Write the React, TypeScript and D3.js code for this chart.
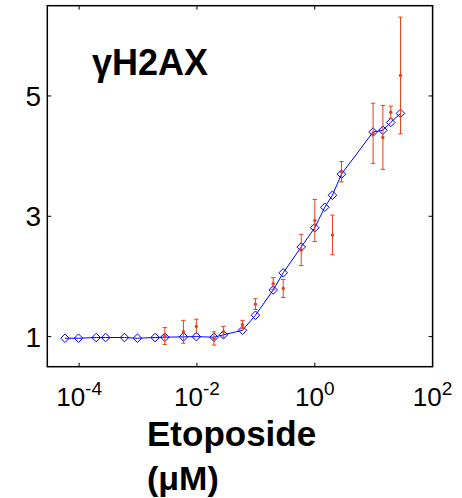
import React from "react";
import * as d3 from "d3";

// Model curve (blue diamonds): log10 concentration (µM) and value
const modelLogConc = [-4.24, -4.01, -3.71, -3.55, -3.23, -3.01, -2.71, -2.545, -2.23, -2.01, -1.71, -1.55, -1.227, -1.007, -0.706, -0.536, -0.23, 0.0, 0.17, 0.3, 0.453, 0.99, 1.156, 1.29, 1.455];
const modelValues = [0.973, 0.973, 0.985, 0.985, 0.985, 0.973, 0.985, 0.99, 0.996, 1.0, 0.99, 1.03, 1.105, 1.355, 1.775, 2.06, 2.49, 2.81, 3.15, 3.35, 3.7, 4.4, 4.43, 4.56, 4.71];

// Experimental data (red, with error bars)
const dataLogConc = [-2.545, -2.23, -2.01, -1.71, -1.55, -1.227, -1.007, -0.706, -0.536, -0.23, 0.0, 0.3, 0.453, 0.99, 1.156, 1.29, 1.455];
const dataValues = [1.01, 1.08, 1.17, 0.97, 1.08, 1.2, 1.54, 1.88, 1.8, 2.44, 2.93, 2.69, 3.74, 4.38, 4.31, 4.73, 5.34];
const dataErrors = [0.14, 0.19, 0.12, 0.11, 0.09, 0.07, 0.09, 0.1, 0.15, 0.26, 0.35, 0.33, 0.17, 0.5, 0.53, 0.1, 0.97];

const xTickExps = [-4, -2, 0, 2];
const yTicks = [1, 3, 5];
const title = "γH2AX";
const xLabelLines = ["Etoposide", "(μM)"];

const W = 462;
const H = 498;
const left = 47.3, right = 432.6, top = 5.7, bottom = 366.7;

export default function App() {
  const x = d3.scaleLog().domain([Math.pow(10, -4.54), 100]).range([left, right]);
  const y = d3.scaleLinear().domain([0.5, 6.5]).range([bottom, top]);

  const model = modelLogConc.map((l, i) => ({ c: Math.pow(10, l), v: modelValues[i] }));
  const data = dataLogConc.map((l, i) => ({ c: Math.pow(10, l), v: dataValues[i], e: dataErrors[i] }));

  const line = d3.line<{ c: number; v: number }>().x((d) => x(d.c)).y((d) => y(d.v));
  const font = "Arial, 'Liberation Sans', Helvetica, sans-serif";
  const red = "#e8401c";
  const blue = "#0000ff";
  const ds = 4.3;

  return (
    <svg width={W} height={H} style={{ position: "absolute", left: 0, top: 0, background: "#fff" }} fontFamily={font}>
      <rect x={0} y={0} width={W} height={H} fill="#fff" />
      {/* frame */}
      <rect x={left} y={top} width={right - left} height={bottom - top} fill="none" stroke="#000" strokeWidth={1.5} />
      {/* x ticks */}
      {xTickExps.map((e) => {
        const tx = x(Math.pow(10, e));
        return (
          <g key={"xt" + e}>
            <line x1={tx} x2={tx} y1={bottom} y2={bottom - 4} stroke="#000" strokeWidth={1} />
            <line x1={tx} x2={tx} y1={top} y2={top + 4} stroke="#000" strokeWidth={1} />
            <text x={tx} y={406} textAnchor="middle" fontSize={26} fill="#000">
              <tspan>10</tspan>
              <tspan dy={-11} fontSize={19}>{String(e)}</tspan>
            </text>
          </g>
        );
      })}
      {/* y ticks */}
      {yTicks.map((t) => {
        const ty = y(t);
        return (
          <g key={"yt" + t}>
            <line x1={left} x2={left + 4} y1={ty} y2={ty} stroke="#000" strokeWidth={1} />
            <line x1={right} x2={right - 4} y1={ty} y2={ty} stroke="#000" strokeWidth={1} />
            <text x={41} y={ty + 10} textAnchor="end" fontSize={28} fill="#000">{t}</text>
          </g>
        );
      })}
      {/* model line */}
      <path d={line(model) || ""} fill="none" stroke={blue} strokeWidth={1} />
      {model.map((d, i) => {
        const cx = x(d.c), cy = y(d.v);
        return (
          <path key={"m" + i} d={`M${cx},${cy - ds}L${cx + ds},${cy}L${cx},${cy + ds}L${cx - ds},${cy}Z`} fill="none" stroke={blue} strokeWidth={1} />
        );
      })}
      {/* data with error bars */}
      {data.map((d, i) => {
        const cx = x(d.c);
        const y1 = y(d.v + d.e), y0 = y(d.v - d.e);
        return (
          <g key={"d" + i} stroke={red} strokeWidth={1}>
            <line x1={cx} x2={cx} y1={y1} y2={y0} />
            <line x1={cx - 2.2} x2={cx + 2.2} y1={y1} y2={y1} />
            <line x1={cx - 2.2} x2={cx + 2.2} y1={y0} y2={y0} />
            <circle cx={cx} cy={y(d.v)} r={1.7} fill={red} stroke="none" />
          </g>
        );
      })}
      {/* title */}
      <text x={92} y={75} fontSize={36} fontWeight="bold" fill="#000">{title}</text>
      {/* x label */}
      <text x={147} y={446} fontSize={35} fontWeight="bold" fill="#000">{xLabelLines[0]}</text>
      <text x={147} y={490} fontSize={34} fontWeight="bold" fill="#000">{xLabelLines[1]}</text>
    </svg>
  );
}
